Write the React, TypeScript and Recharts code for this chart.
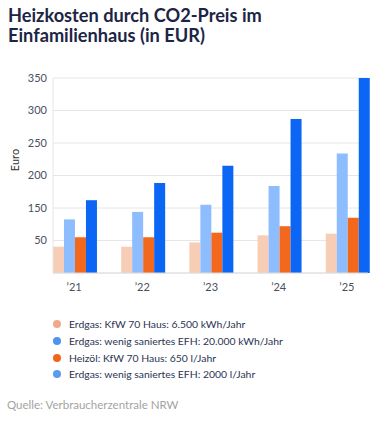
import { Bar, BarChart, CartesianGrid, XAxis, YAxis } from "recharts";

const YEARS = ["’21", "’22", "’23", "’24", "’25"];
// values in axis steps as drawn (gridline every 50 units, labels below)
const GAS_KFW70 = [40.5, 40.5, 47, 58, 60.5];
const GAS_EFH = [82.5, 94, 105, 134, 184];
const OIL_KFW70 = [55, 55, 62, 72, 85];
const OIL_EFH = [112, 138.5, 165, 237, 300];
const Y_TICKS = [50, 100, 150, 200, 250, 300];
const Y_TICK_LABELS = ["50", "150", "200", "250", "300", "350"];

const SERIES = [
  { key: "gasKfw", name: "Erdgas: KfW 70 Haus: 6.500 kWh/Jahr", fill: "#f8cdb5", dot: "#f2a88a" },
  { key: "gasEfh", name: "Erdgas: wenig saniertes EFH: 20.000 kWh/Jahr", fill: "#8dbdff", dot: "#4f93f0" },
  { key: "oilKfw", name: "Heizöl: KfW 70 Haus: 650 l/Jahr", fill: "#f2691e", dot: "#f0641c" },
  { key: "oilEfh", name: "Erdgas: wenig saniertes EFH: 2000 l/Jahr", fill: "#0b66f5", dot: "#5a9af0" },
];

const data = YEARS.map((year, i) => ({
  year,
  gasKfw: GAS_KFW70[i],
  gasEfh: GAS_EFH[i],
  oilKfw: OIL_KFW70[i],
  oilEfh: OIL_EFH[i],
}));

const FONT = "'Source Sans Pro', Lato, 'Noto Sans', sans-serif";
const TICK = { fill: "#4a4f5c", fontSize: 11, fontFamily: FONT };

export default function App() {
  return (
    <div
      style={{
        position: "absolute",
        left: 0,
        top: 0,
        width: 375,
        height: 429,
        background: "#fff",
        fontFamily: FONT,
        overflow: "hidden",
      }}
    >
      <div
        style={{
          position: "absolute",
          left: 8,
          top: 5,
          fontSize: 18.2,
          lineHeight: "20px",
          fontWeight: 700,
          color: "#1c2545",
        }}
      >
        Heizkosten durch CO2-Preis im
        <br />
        Einfamilienhaus (in EUR)
      </div>
      <div style={{ position: "absolute", left: 0, top: 0 }}>
        <BarChart
          width={375}
          height={303}
          data={data}
          margin={{ top: 78, right: 7, bottom: 0, left: 0 }}
          barGap={0}
          barCategoryGap="19%"
        >
          <CartesianGrid stroke="#e6e6e6" vertical={false} />
          <XAxis
            dataKey="year"
            padding={{ left: -13, right: -13 }}
            axisLine={{ stroke: "#dcdcdc" }}
            tickLine={false}
            tickMargin={4}
            tick={TICK}
            height={30}
          />
          <YAxis
            width={53}
            domain={[0, 300]}
            ticks={Y_TICKS}
            tickFormatter={(v: number) => Y_TICK_LABELS[Y_TICKS.indexOf(v)] ?? ""}
            axisLine={{ stroke: "#e6e6e6" }}
            tickLine={false}
            tickMargin={0}
            tick={TICK}
            label={{
              content: () => (
                <text
                  x={14}
                  y={160}
                  transform="rotate(-90 14 160)"
                  textAnchor="middle"
                  dominantBaseline="central"
                  fill="#333"
                  fontSize={11}
                  fontFamily={FONT}
                >
                  Euro
                </text>
              ),
            }}
          />
          {SERIES.map((s) => (
            <Bar key={s.key} dataKey={s.key} name={s.name} fill={s.fill} isAnimationActive={false} />
          ))}
        </BarChart>
      </div>
      <div style={{ position: "absolute", left: 53, top: 316 }}>
        {SERIES.map((s) => (
          <div
            key={s.key}
            style={{
              display: "flex",
              alignItems: "center",
              height: 16.7,
              fontSize: 10.4,
              color: "#2a3350",
            }}
          >
            <span
              style={{
                width: 8,
                height: 8,
                borderRadius: "50%",
                background: s.dot,
                marginRight: 8,
                flexShrink: 0,
              }}
            />
            {s.name}
          </div>
        ))}
      </div>
      <div
        style={{
          position: "absolute",
          left: 7,
          top: 398,
          fontSize: 11.5,
          color: "#a3a3a3",
        }}
      >
        Quelle: Verbraucherzentrale NRW
      </div>
    </div>
  );
}
